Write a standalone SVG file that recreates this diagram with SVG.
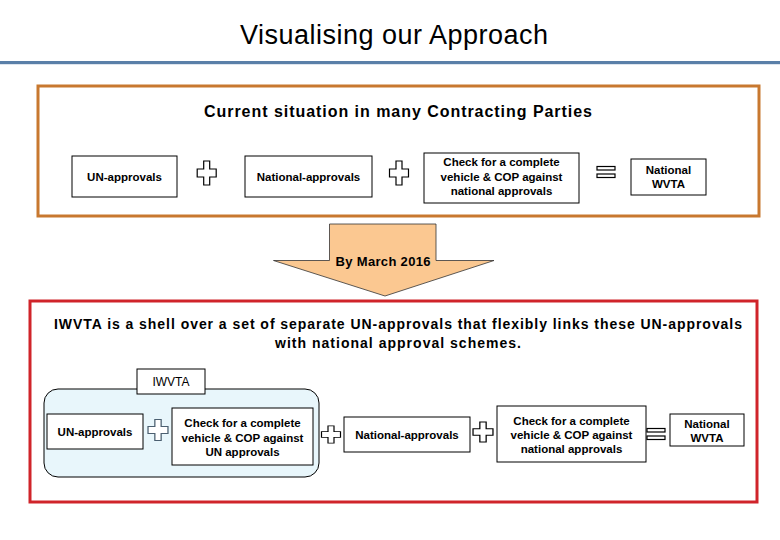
<svg xmlns="http://www.w3.org/2000/svg" width="780" height="540" viewBox="0 0 780 540">
<style>
.t{font-family:"Liberation Sans",Arial,sans-serif;fill:#000}
.b{font-weight:bold}
.bx{fill:#fff;stroke:#000;stroke-width:1}
.bt{font-family:"Liberation Sans",Arial,sans-serif;font-weight:bold;font-size:11.5px;text-anchor:middle;fill:#000}
.op{fill:#fff;stroke:#000;stroke-width:1.2}
</style>
<defs>
<path id="plus" d="M-3,-12 h6 v8 h6.5 v8 h-6.5 v8 h-6 v-8 h-6.5 v-8 h6.5 z"/>
<g id="eq"><rect x="0" y="0" width="18" height="3.5"/><rect x="0" y="7.5" width="18" height="3.5"/></g>
</defs>
<rect width="780" height="540" fill="#fff"/>
<text class="t" x="394" y="44" font-size="27" text-anchor="middle" textLength="308">Visualising our Approach</text>
<rect x="0" y="61" width="780" height="3.2" fill="#5a7fa8"/>

<g id="current">
<rect x="38" y="86" width="721" height="130" fill="#fff" stroke="#c8782f" stroke-width="3"/>
<text class="t b" x="398" y="117" font-size="16" text-anchor="middle" textLength="388">Current situation in many Contracting Parties</text>
</g>

<g id="top-un"><rect class="bx" x="72" y="156" width="105" height="41"/><text class="bt" x="124.5" y="181">UN-approvals</text></g>
<g id="top-nat"><rect class="bx" x="245" y="156" width="127" height="41"/><text class="bt" x="308.5" y="181">National-approvals</text></g>
<g id="top-check"><rect class="bx" x="424" y="153" width="155" height="50"/>
<text class="bt" x="501.5" y="166">Check for a complete</text>
<text class="bt" x="501.5" y="180.5">vehicle &amp; COP against</text>
<text class="bt" x="501.5" y="195">national approvals</text></g>
<g id="top-wvta"><rect class="bx" x="631" y="159" width="75" height="36"/>
<text class="bt" x="668.5" y="174">National</text><text class="bt" x="668.5" y="188">WVTA</text></g>

<g id="connectors">
<path d="M329.5,224 H436 V260.5 H494 L385,296 L273.5,260.5 H329.5 Z" fill="#fbc891" stroke="#333" stroke-width="0.8"/>
<text class="t b" x="383" y="266" font-size="13" text-anchor="middle" textLength="95">By March 2016</text>
</g>

<g id="iwvta-section">
<rect x="30" y="301" width="727" height="201" fill="#fff" stroke="#d0242a" stroke-width="3"/>
<text class="t b" x="398" y="329" font-size="14" text-anchor="middle" textLength="688">IWVTA is a shell over a set of separate UN-approvals that flexibly links these UN-approvals</text>
<text class="t b" x="398" y="348" font-size="14" text-anchor="middle" textLength="246">with national approval schemes.</text>
</g>

<g id="iwvta-shell">
<rect x="44" y="389" width="275" height="88" rx="14" fill="#e8f6fb" stroke="#000" stroke-width="1"/>
<rect class="bx" x="137" y="369" width="68" height="25"/>
<text class="t" x="171" y="386" font-size="12" text-anchor="middle">IWVTA</text>
</g>
<g id="bot-un"><rect class="bx" x="47" y="414" width="96" height="35"/><text class="bt" x="95" y="436">UN-approvals</text></g>
<g id="bot-check-un"><rect class="bx" x="172" y="408" width="141" height="57"/>
<text class="bt" x="242.5" y="427">Check for a complete</text>
<text class="bt" x="242.5" y="441.5">vehicle &amp; COP against</text>
<text class="bt" x="242.5" y="456">UN approvals</text></g>
<g id="bot-nat"><rect class="bx" x="344" y="417" width="126" height="35"/><text class="bt" x="407" y="439">National-approvals</text></g>
<g id="bot-check-nat"><rect class="bx" x="497" y="406" width="149" height="56"/>
<text class="bt" x="571.5" y="425">Check for a complete</text>
<text class="bt" x="571.5" y="439">vehicle &amp; COP against</text>
<text class="bt" x="571.5" y="453">national approvals</text></g>
<g id="bot-wvta"><rect class="bx" x="670" y="414" width="74" height="32"/>
<text class="bt" x="707" y="428">National</text><text class="bt" x="707" y="442">WVTA</text></g>

<g id="operators">
<use href="#plus" class="op" transform="translate(206.7,173)"/>
<use href="#plus" class="op" transform="translate(399,173)"/>
<use href="#eq" class="op" transform="translate(597,166.5)"/>
<use href="#plus" class="op" transform="translate(158,430) scale(1.05,0.87)" style="stroke:#4b5f70"/>
<use href="#plus" class="op" transform="translate(331,434.5) scale(1,0.72)"/>
<use href="#plus" class="op" transform="translate(483,432) scale(1.05,0.83)"/>
<use href="#eq" class="op" transform="translate(647,428.5)"/>
</g>
</svg>
